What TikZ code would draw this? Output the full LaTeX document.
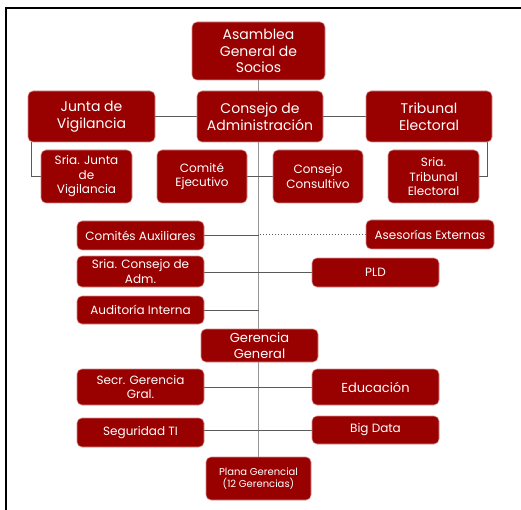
\documentclass[tikz,border=0pt]{standalone}
\usepackage{fontspec}
\setmainfont{Poppins}
\usetikzlibrary{backgrounds}
\definecolor{boxred}{RGB}{153,0,0}
\definecolor{boxedge}{RGB}{214,140,140}
\definecolor{trunkgray}{RGB}{150,150,150}
\definecolor{linkgray}{RGB}{90,90,90}

\tikzset{
  unit/.style={fill=boxred, draw=boxedge, line width=0.6pt, rounded corners=5pt,
    text=white, align=center, inner sep=0pt, font=\fontsize{12}{14.5}\selectfont},
  bigunit/.style={unit, font=\fontsize{14}{16.7}\selectfont},
  link/.style={linkgray, line width=1pt},
}

\begin{document}
\begin{tikzpicture}[x=1pt, y=-1pt]
    \useasboundingbox (0,0) rectangle (521,510);
    % Frame
    \draw[line width=2.2pt] (6,510) -- (6,8) -- (521,8);

    % Top levels
    \node[bigunit, minimum width=133, minimum height=58] (asamblea) at (258.5,51) {Asamblea\\General de\\Socios};
    \node[bigunit, minimum width=126, minimum height=51] (consejo) at (260,116.5) {Consejo de\\Administración};
    \node[bigunit, minimum width=127, minimum height=51] (junta) at (91.5,116.5) {Junta de\\Vigilancia};
    \node[bigunit, minimum width=126, minimum height=51] (tribunal) at (429,116.5) {Tribunal\\Electoral};

    % Second row
    \node[unit, minimum width=91, minimum height=53] (sriajunta) at (86.5,176.5) {Sria. Junta\\de\\Vigilancia};
    \node[unit, minimum width=90, minimum height=53] (comite) at (202,176.5) {Comité\\Ejecutivo};
    \node[unit, minimum width=90, minimum height=53] (consultivo) at (318,176.5) {Consejo\\Consultivo};
    \node[unit, minimum width=91, minimum height=53] (sriatrib) at (433.5,176.5) {Sria.\\Tribunal\\Electoral};

    % Support units
    \node[unit, minimum width=127, minimum height=29] (aux) at (140.5,235.5) {Comités Auxiliares};
    \node[unit, minimum width=128, minimum height=29] (ases) at (430,234.5) {Asesorías Externas};
    \node[unit, minimum width=127, minimum height=31] (sriacons) at (140.5,271.5) {Sria. Consejo de\\Adm.};
    \node[unit, minimum width=127, minimum height=29] (pld) at (375.5,272.5) {PLD};
    \node[unit, minimum width=127, minimum height=28] (audit) at (140.5,310) {Auditoría Interna};

    % Management
    \node[unit, minimum width=117, minimum height=33, font=\fontsize{13}{15.3}\selectfont] (gerencia) at (259.5,345.5) {Gerencia\\General};
    \node[unit, minimum width=127, minimum height=36] (secr) at (140.5,387) {Secr. Gerencia\\Gral.};
    \node[unit, minimum width=127, minimum height=36, font=\fontsize{13}{15}\selectfont] (educ) at (375.5,387) {Educación};
    \node[unit, minimum width=127, minimum height=29] (seg) at (140.5,432.5) {Seguridad TI};
    \node[unit, minimum width=127, minimum height=28] (bigdata) at (375.5,430) {Big Data};
    \node[unit, minimum width=105, minimum height=43, font=\fontsize{10}{12.3}\selectfont] (plana) at (258.5,478.5) {Plana Gerencial\\(12 Gerencias)};

    % Connectors
    \begin{pgfonlayer}{background}
        \draw[trunkgray, line width=1.2pt] (asamblea.south) -- (plana.north);
        \draw[link] (junta) -- (tribunal);
        \draw[link] ([xshift=4]junta.south west) |- (sriajunta.west);
        \draw[link] ([xshift=-5]tribunal.south east) |- (sriatrib.east);
        \draw[link] (comite) -- (consultivo);
        \draw[link] (aux.east) -- (aux.east -| asamblea.south);
        \draw[link, dotted, line width=0.8pt] (ases.west) -- (ases.west -| asamblea.south);
        \draw[link] (pld.west -| sriacons.east) -- (pld.west);
        \draw[link] (audit.east) -- (audit.east -| asamblea.south);
        \draw[link] (secr) -- (educ);
        \draw[link] (bigdata.west -| seg.east) -- (bigdata.west);
    \end{pgfonlayer}
\end{tikzpicture}
\end{document}
